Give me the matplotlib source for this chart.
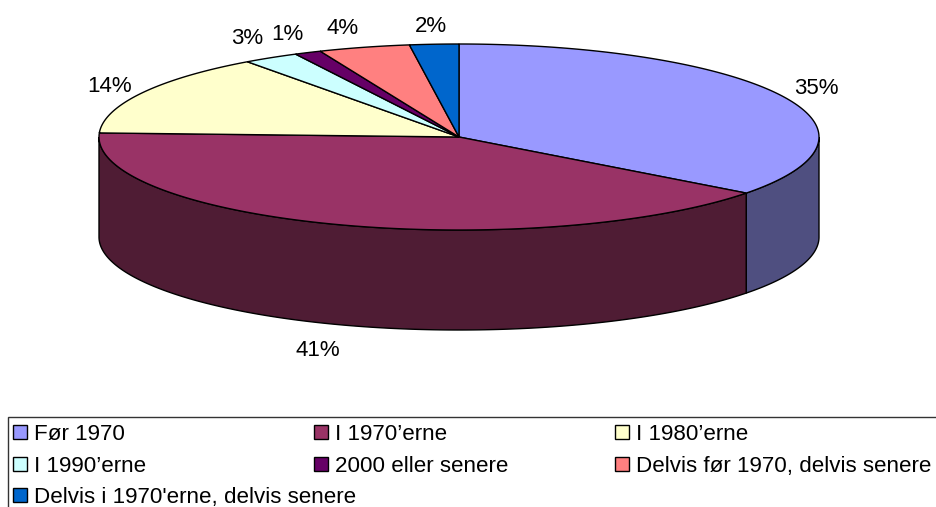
import numpy as np
import matplotlib
matplotlib.use('Agg')
import matplotlib.pyplot as plt
from matplotlib.patches import Rectangle

labels = ['Før 1970', 'I 1970’erne', 'I 1980’erne', 'I 1990’erne', '2000 eller senere',
          'Delvis før 1970, delvis senere', "Delvis i 1970'erne, delvis senere"]
# shares as measured on the drawn slices, the printed labels are rounded
values = [35.3, 40.4, 14.3, 2.5, 1.2, 4.1, 2.2]
pct_labels = ['35%', '41%', '14%', '3%', '1%', '4%', '2%']
colors = ['#9999FF', '#993366', '#FFFFCC', '#CCFFFF', '#660066', '#FF8080', '#0066CC']
side_colors = ['#4F4F80', '#4F1C34']

plt.rcParams['font.family'] = ['Liberation Sans', 'DejaVu Sans']

fig = plt.figure(figsize=(9.36, 5.07), dpi=100)
ax = fig.add_axes([0, 0, 1, 1])
ax.set_xlim(0, 936)
ax.set_ylim(507, 0)
ax.axis('off')

cx, cy = 459, 137
rx, ry = 360, 93
depth = 100


def arc(a0, a1):
    # angles clockwise from 12 o'clock, degrees
    t = np.radians(np.linspace(a0, a1, 200))
    return cx + rx*np.sin(t), cy - ry*np.cos(t)


edges = np.cumsum([0] + values) * 3.6

# sides, only the front half shows
for i in range(2):
    a0 = max(edges[i], 90)
    a1 = min(edges[i+1], 270)
    x, y = arc(a0, a1)
    ax.fill(np.r_[x, x[::-1]], np.r_[y, y[::-1] + depth], fc=side_colors[i], ec='black', lw=1, zorder=1)

# top of the pie
for i in range(len(values)):
    x, y = arc(edges[i], edges[i+1])
    ax.fill(np.r_[cx, x], np.r_[cy, y], fc=colors[i], ec='black', lw=1, zorder=2)

pct_x = [816, 318, 110, 247, 287, 343, 431]
pct_y = [88, 350, 86, 39, 35, 29, 27]
for s, px, py in zip(pct_labels, pct_x, pct_y):
    ax.text(px, py, s, fontsize=16, ha='center', va='center', color='black')

# legend box, runs off the right and bottom of the picture
ax.add_patch(Rectangle((8, 417), 960, 120, fc='white', ec='#333333', lw=1, clip_on=True))
leg_x = [13, 314, 615, 13, 314, 615, 13]
leg_y = [431.5, 431.5, 431.5, 463.5, 463.5, 463.5, 495]
leg_base = [439.5, 439.5, 439.5, 472, 472, 472, 502.5]
for i in range(len(labels)):
    ax.add_patch(Rectangle((leg_x[i], leg_y[i]-7), 14, 14, fc=colors[i], ec='black', lw=1))
    ax.text(leg_x[i]+21, leg_base[i], labels[i], fontsize=16.1, ha='left', va='baseline', color='black')

fig.savefig('out.png', dpi=100)
